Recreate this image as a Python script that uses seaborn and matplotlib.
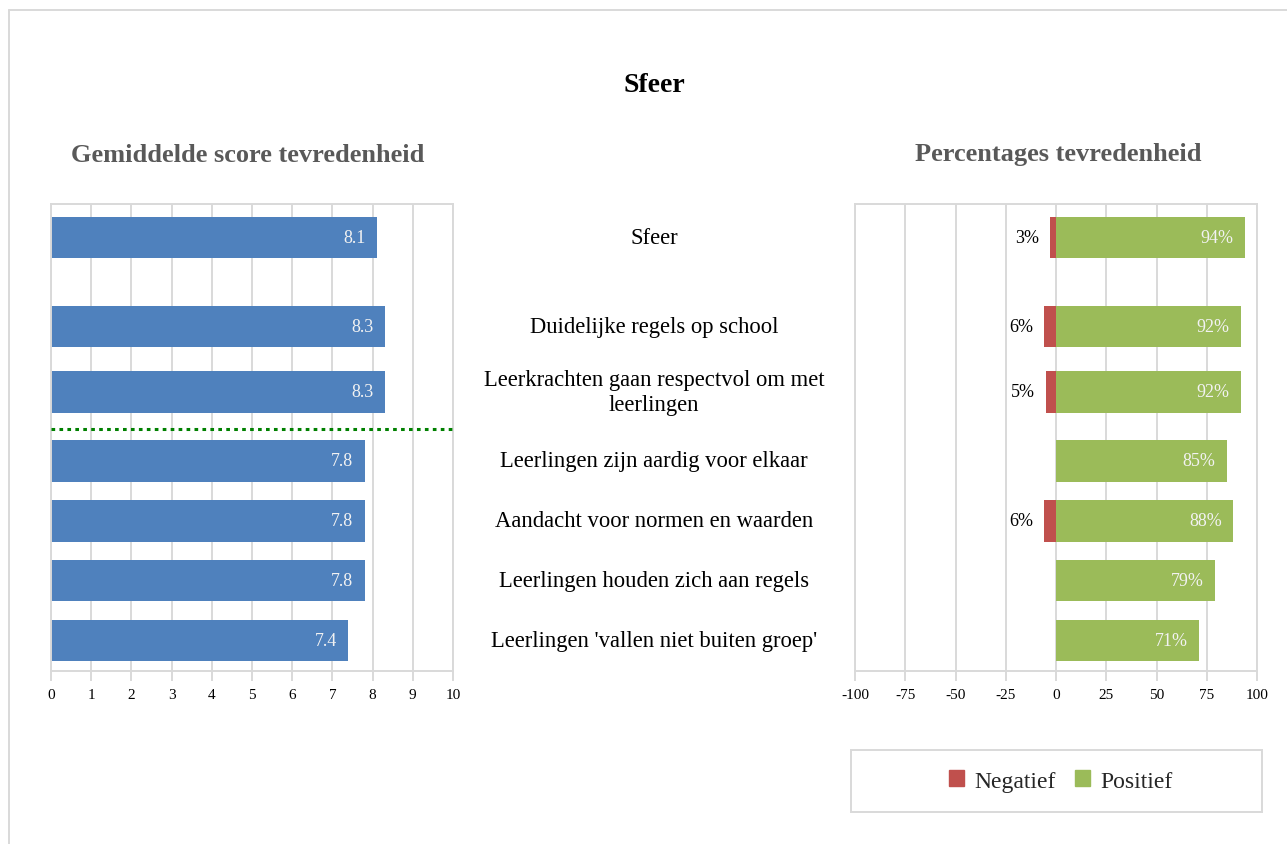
import pandas as pd
import matplotlib
matplotlib.use("Agg")
import matplotlib.pyplot as plt
import matplotlib.patches as mpatches
from matplotlib.lines import Line2D
from matplotlib.transforms import blended_transform_factory
import seaborn as sns

# -----------------------------
# Data
# -----------------------------
categories = [
    "Sfeer",
    "Duidelijke regels op school",
    "Leerkrachten gaan respectvol om met\nleerlingen",
    "Leerlingen zijn aardig voor elkaar",
    "Aandacht voor normen en waarden",
    "Leerlingen houden zich aan regels",
    "Leerlingen 'vallen niet buiten groep'",
]
scores = [8.1, 8.3, 8.3, 7.8, 7.8, 7.8, 7.4]
negatief = [3, 6, 5, 0, 6, 0, 0]
positief = [94, 92, 92, 85, 88, 79, 71]

score_ticks = list(range(0, 11))
pct_ticks = [-100, -75, -50, -25, 0, 25, 50, 75, 100]

# -----------------------------
# Layout (row positions, top row = 0)
# -----------------------------
row_pos = [0, 1.49, 2.58, 3.73, 4.73, 5.73, 6.73]
sep_y = 3.19
ylims = (7.235, -0.555)

df = pd.DataFrame({
    "categorie": categories,
    "score": scores,
    "neg": [-v for v in negatief],
    "pos": positief,
    "row": row_pos,
})

BLUE = "#4F81BD"
RED = "#C0504D"
GREEN = "#9BBB59"
GRID = "#D9D9D9"
SUB = "#595959"

sns.set_theme(style="white")
plt.rcParams["font.family"] = ["Liberation Serif", "DejaVu Serif"]
plt.rcParams["axes.unicode_minus"] = False

W, H = 1287, 845
fig = plt.figure(figsize=(W / 100, H / 100), dpi=100)


def fx(px):
    return px / W


def fy(py):
    return 1 - py / H


ax1 = fig.add_axes([fx(51), fy(672), fx(453) - fx(51), fy(205) - fy(672)])
ax2 = fig.add_axes([fx(855), fy(672), fx(1257) - fx(855), fy(205) - fy(672)])

# -----------------------------
# Left: average scores
# -----------------------------
sns.barplot(data=df, x="score", y="row", orient="y", native_scale=True,
            color=BLUE, saturation=1, width=0.69, errorbar=None, ax=ax1,
            linewidth=0)
for v, r in zip(scores, row_pos):
    ax1.annotate(f"{v:.1f}", xy=(v, r), xytext=(-8, 0), textcoords="offset points",
                 ha="right", va="center", color="#F2F2F2", fontsize=13)
ax1.plot([0, 10], [sep_y, sep_y], color="#008000", lw=2.2,
         linestyle=(0, (1.2, 1.4)), solid_capstyle="butt", zorder=3)
ax1.set_xlim(0, 10)
ax1.set_xticks(score_ticks)

# -----------------------------
# Right: percentages
# -----------------------------
sns.barplot(data=df, x="neg", y="row", orient="y", native_scale=True,
            color=RED, saturation=1, width=0.69, errorbar=None, ax=ax2,
            linewidth=0)
sns.barplot(data=df, x="pos", y="row", orient="y", native_scale=True,
            color=GREEN, saturation=1, width=0.69, errorbar=None, ax=ax2,
            linewidth=0)
for n, p, r in zip(negatief, positief, row_pos):
    ax2.annotate(f"{p}%", xy=(p, r), xytext=(-8, 0), textcoords="offset points",
                 ha="right", va="center", color="#F2F2F2", fontsize=13)
    if n > 0:
        ax2.annotate(f"{n}%", xy=(-n, r), xytext=(-8, 0), textcoords="offset points",
                     ha="right", va="center", color="black", fontsize=13)
ax2.set_xlim(-100, 100)
ax2.set_xticks(pct_ticks)

for ax in (ax1, ax2):
    ax.set_ylim(*ylims)
    ax.set_yticks([])
    ax.set_xlabel("")
    ax.set_ylabel("")
    ax.grid(axis="x", color=GRID, lw=1.4)
    ax.grid(axis="y", visible=False)
    ax.set_axisbelow(True)
    for s in ax.spines.values():
        s.set_visible(True)
        s.set_color(GRID)
        s.set_linewidth(1.4)
    ax.tick_params(axis="x", bottom=True, direction="out", length=7, width=1.4,
                   color=GRID, labelsize=11, labelcolor="black", pad=5)

# -----------------------------
# Category labels in the middle
# -----------------------------
trans = blended_transform_factory(fig.transFigure, ax1.transData)
for c, r in zip(categories, row_pos):
    fig.text(fx(654), r, c, transform=trans, ha="center", va="center",
             fontsize=16.3, color="black", linespacing=1.2)

# -----------------------------
# Titles
# -----------------------------
fig.text(fx(654), fy(86), "Sfeer", ha="center", va="center",
         fontsize=20, fontweight="bold", color="black")
fig.text(fx(248), fy(155), "Gemiddelde score tevredenheid", ha="center",
         va="center", fontsize=19, fontweight="bold", color=SUB)
fig.text(fx(1058), fy(155), "Percentages tevredenheid", ha="center",
         va="center", fontsize=19, fontweight="bold", color=SUB)

# -----------------------------
# Legend box
# -----------------------------
fig.patches.append(mpatches.Rectangle((fx(851), fy(813)), fx(1262) - fx(851),
                                      fy(751) - fy(813), transform=fig.transFigure,
                                      fill=False, edgecolor=GRID, lw=1.4))
handles = [mpatches.Patch(color=RED, label="Negatief"),
           mpatches.Patch(color=GREEN, label="Positief")]
fig.legend(handles=handles, loc="center", bbox_to_anchor=(fx(1061), fy(782)),
           ncol=2, frameon=False, fontsize=17, handlelength=0.64,
           handleheight=0.64, handletextpad=0.45, columnspacing=0.8)

# outer frame (top and left edges)
fig.add_artist(Line2D([fx(9), 1], [fy(11), fy(11)], color=GRID, lw=1.4))
fig.add_artist(Line2D([fx(9), fx(9)], [fy(11), 0], color=GRID, lw=1.4))

fig.savefig("out.png", dpi=100)
